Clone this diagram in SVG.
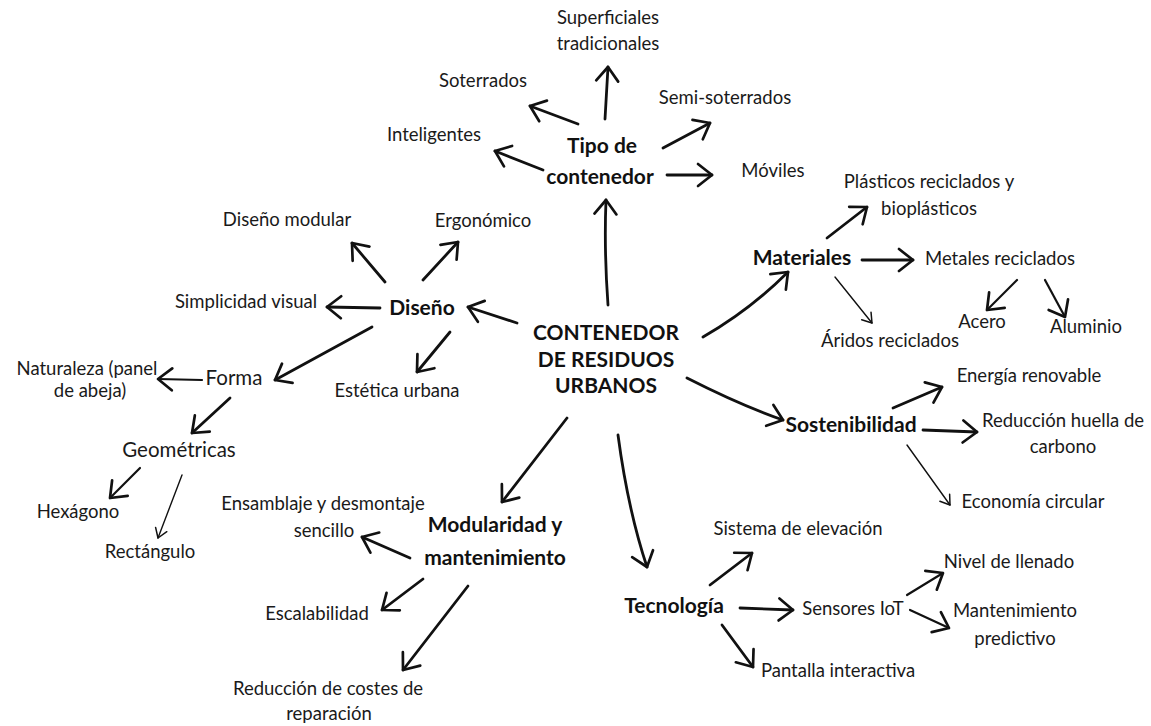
<svg xmlns="http://www.w3.org/2000/svg" width="1151" height="726" viewBox="0 0 1151 726">
<style>
text{font-family:Lato,"Open Sans","DejaVu Sans",sans-serif;font-size:18.5px;fill:#1a1a1a;text-anchor:middle}
.b{font-weight:bold;font-size:21px;fill:#111}
.m{font-size:20.5px}
.c{fill:none;stroke:#111;stroke-width:2.8;stroke-linecap:round;stroke-linejoin:round;marker-end:url(#h)}
.t{fill:none;stroke:#111;stroke-width:1.4;stroke-linecap:round;marker-end:url(#ht)}
.s{stroke-width:2.2}
</style>
<defs>
<marker id="h" viewBox="0 0 22 26" refX="19" refY="13" markerWidth="22" markerHeight="26" markerUnits="userSpaceOnUse" orient="auto">
<path d="M5,2 L19,13 L5,24" fill="none" stroke="#111" stroke-width="2.7" stroke-linecap="round" stroke-linejoin="round"/>
</marker>
<marker id="ht" viewBox="0 0 14 16" refX="12" refY="8" markerWidth="14" markerHeight="16" markerUnits="userSpaceOnUse" orient="auto">
<path d="M3,2 L12,8 L3,14" fill="none" stroke="#111" stroke-width="1.5" stroke-linecap="round" stroke-linejoin="round"/>
</marker>
</defs>
<rect width="1151" height="726" fill="#fff"/>
<g id="connectors">
<path class="c" d="M608,305 Q604,250 606,200"/>
<path class="c" d="M605,119 L608,67"/>
<path class="c" d="M578,124 L530,106"/>
<path class="c" d="M543,170 L495,151"/>
<path class="c" d="M663,148 L710,123"/>
<path class="c" d="M667,175 L712,175"/>
<path class="c" d="M517,323 L468,307"/>
<path class="c" d="M385,282 L352,243"/>
<path class="c" d="M423,280 L458,242"/>
<path class="c" d="M380,308 L327,307"/>
<path class="c" d="M372,327 L275,380"/>
<path class="c" d="M450,332 L417,372"/>
<path class="c s" d="M202,380 L158,379"/>
<path class="c" d="M230,398 L192,433"/>
<path class="c s" d="M140,468 L110,498"/>
<path class="t" d="M182,475 L158,538"/>
<path class="c" d="M703,337 Q750,310 788,272"/>
<path class="c" d="M827,238 L867,207"/>
<path class="c" d="M862,260 L913,260"/>
<path class="t" d="M835,277 L872,323"/>
<path class="c s" d="M1017,280 L987,310"/>
<path class="c s" d="M1045,280 L1065,317"/>
<path class="c" d="M687,378 Q740,405 783,420"/>
<path class="c" d="M893,408 L942,387"/>
<path class="c" d="M923,430 L977,432"/>
<path class="t" d="M907,445 L950,505"/>
<path class="c" d="M567,418 L502,502"/>
<path class="c" d="M410,558 L362,537"/>
<path class="c" d="M423,579 L382,610"/>
<path class="c" d="M468,586 L403,670"/>
<path class="c" d="M618,435 Q628,510 647,567"/>
<path class="c" d="M710,585 L752,553"/>
<path class="c" d="M740,608 L793,610"/>
<path class="c" d="M722,625 L753,667"/>
<path class="c s" d="M907,595 L943,573"/>
<path class="c s" d="M910,610 L949,628"/>
</g>
<g id="center"><text class="b" x="606" y="340">CONTENEDOR</text><text class="b" x="606" y="367">DE RESIDUOS</text><text class="b" x="606" y="393">URBANOS</text></g>
<g id="tipo"><text class="b" x="602" y="153">Tipo de</text><text class="b" x="600" y="184">contenedor</text></g>
<g id="superficiales"><text x="608" y="24">Superficiales</text><text x="608" y="50">tradicionales</text></g>
<g id="soterrados"><text x="483" y="87">Soterrados</text></g>
<g id="inteligentes"><text x="434" y="141">Inteligentes</text></g>
<g id="semi"><text x="725" y="104">Semi-soterrados</text></g>
<g id="moviles"><text x="773" y="177">Móviles</text></g>
<g id="diseno"><text class="b" x="422" y="315">Diseño</text></g>
<g id="modular"><text x="287" y="226">Diseño modular</text></g>
<g id="ergonomico"><text x="483" y="227">Ergonómico</text></g>
<g id="simplicidad"><text x="246" y="308">Simplicidad visual</text></g>
<g id="estetica"><text x="397" y="397">Estética urbana</text></g>
<g id="forma"><text class="m" x="234" y="385">Forma</text></g>
<g id="naturaleza"><text x="87" y="375">Naturaleza (panel</text><text x="90" y="397">de abeja)</text></g>
<g id="geometricas"><text class="m" x="179" y="457">Geométricas</text></g>
<g id="hexagono"><text x="78" y="518">Hexágono</text></g>
<g id="rectangulo"><text x="150" y="558">Rectángulo</text></g>
<g id="materiales"><text class="b" x="802" y="265">Materiales</text></g>
<g id="plasticos"><text x="929" y="188">Plásticos reciclados y</text><text x="929" y="215">bioplásticos</text></g>
<g id="metales"><text x="1000" y="265">Metales reciclados</text></g>
<g id="aridos"><text x="890" y="347">Áridos reciclados</text></g>
<g id="acero"><text x="982" y="328">Acero</text></g>
<g id="aluminio"><text x="1086" y="333">Aluminio</text></g>
<g id="sostenibilidad"><text class="b" x="851" y="432">Sostenibilidad</text></g>
<g id="energia"><text x="1029" y="382">Energía renovable</text></g>
<g id="huella"><text x="1063" y="427">Reducción huella de</text><text x="1063" y="453">carbono</text></g>
<g id="economia"><text x="1033" y="508">Economía circular</text></g>
<g id="modularidad"><text class="b" x="495" y="532">Modularidad y</text><text class="b" x="495" y="565">mantenimiento</text></g>
<g id="ensamblaje"><text x="323" y="510">Ensamblaje y desmontaje</text><text x="324" y="537">sencillo</text></g>
<g id="escalabilidad"><text x="317" y="620">Escalabilidad</text></g>
<g id="costes"><text x="328" y="695">Reducción de costes de</text><text x="329" y="720">reparación</text></g>
<g id="tecnologia"><text class="b" x="674" y="613">Tecnología</text></g>
<g id="elevacion"><text x="798" y="535">Sistema de elevación</text></g>
<g id="sensores"><text x="853" y="615">Sensores IoT</text></g>
<g id="nivel"><text x="1009" y="568">Nivel de llenado</text></g>
<g id="predictivo"><text x="1015" y="617">Mantenimiento</text><text x="1015" y="645">predictivo</text></g>
<g id="pantalla"><text x="838" y="677">Pantalla interactiva</text></g>
</svg>
